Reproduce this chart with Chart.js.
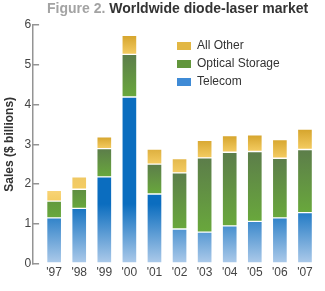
<!DOCTYPE html>
<html>
<head>
<meta charset="utf-8">
<script src="https://cdn.jsdelivr.net/npm/chart.js@4/dist/chart.umd.min.js"></script>
<style>
  html, body { margin: 0; padding: 0; background: #fff; }
  #wrap { position: relative; width: 325px; height: 291px; }
  #title { position: absolute; left: 47px; top: 0px; font: bold 14px "Liberation Sans", Arial, sans-serif; line-height: 16px; white-space: nowrap; color: #333; }
  #title .fig { color: #a3a3a3; }
</style>
</head>
<body>
<div id="wrap">
  <canvas id="c" width="325" height="291"></canvas>
  <div id="title"><span class="fig">Figure 2.</span> Worldwide diode-laser market</div>
</div>
<script>
const years = ["'97", "'98", "'99", "'00", "'01", "'02", "'03", "'04", "'05", "'06", "'07"];
const telecom = [1.15, 1.39, 2.18, 4.19, 1.75, 0.87, 0.79, 0.95, 1.06, 1.15, 1.28];
const opticalStorage = [0.42, 0.48, 0.71, 1.07, 0.75, 1.41, 1.87, 1.85, 1.76, 1.50, 1.59];
const allOther = [0.27, 0.31, 0.30, 0.48, 0.38, 0.36, 0.44, 0.42, 0.42, 0.47, 0.51];
const yTicks = [0, 1, 2, 3, 4, 5, 6];

const FONT = '"Liberation Sans", Arial, sans-serif';

function hex(c) { return [1, 3, 5].map(k => parseInt(c.substr(k, 2), 16)); }
function mix(a, b, t) {
  t = Math.max(0, Math.min(1, t));
  const A = hex(a), B = hex(b);
  return 'rgb(' + A.map((v, k) => Math.round(v + (B[k] - v) * t)).join(',') + ')';
}

// Telecom: gradient tied to the value axis
function blueFill(ctx) {
  const chart = ctx.chart, y = chart.scales && chart.scales.y;
  if (!chart.chartArea || !y) return '#3f8bd6';
  const g = chart.ctx.createLinearGradient(0, y.getPixelForValue(1.5), 0, y.getPixelForValue(0));
  g.addColorStop(0, '#0b6dbf');
  g.addColorStop(1, '#aecbea');
  return g;
}

// Segment gradient: darker at the top of each segment
function segFill(lowerArrs, ownArr, darkTop, lightTop, bottomCol, hiVal, loVal, fallback) {
  return function (ctx) {
    const chart = ctx.chart, y = chart.scales && chart.scales.y;
    const i = ctx.dataIndex;
    if (!chart.chartArea || !y || i === undefined) return fallback;
    const base = lowerArrs.reduce((s, a) => s + a[i], 0);
    const top = base + ownArr[i];
    const t = (hiVal - top) / (hiVal - loVal);
    const g = chart.ctx.createLinearGradient(0, y.getPixelForValue(top), 0, y.getPixelForValue(base));
    g.addColorStop(0, mix(darkTop, lightTop, t));
    g.addColorStop(1, bottomCol);
    return g;
  };
}

const swatch = {
  'Telecom': '#3f8bd6',
  'Optical Storage': '#62963c',
  'All Other': '#e2b744'
};

const toXY = arr => arr.map((v, i) => ({ x: i, y: v }));

const legendMove = {
  id: 'legendMove',
  afterLayout(chart) {
    const l = chart.legend;
    if (!l) return;
    const w = l.width, h = l.height;
    l.left = 171; l.top = 34;
    l.right = l.left + w; l.bottom = l.top + h;
  }
};

new Chart(document.getElementById('c'), {
  type: 'bar',
  data: {
    datasets: [
      { label: 'Telecom', data: toXY(telecom), backgroundColor: blueFill },
      { label: 'Optical Storage', data: toXY(opticalStorage),
        backgroundColor: segFill([telecom], opticalStorage, '#5c7d4a', '#63a03a', '#69a83c', 2.3, 1.4, '#62963c') },
      { label: 'All Other', data: toXY(allOther),
        backgroundColor: segFill([telecom, opticalStorage], allOther, '#d5a42c', '#f9d579', '#f4cc62', 3.2, 1.8, '#e2b744') }
    ]
  },
  options: {
    responsive: false,
    animation: false,
    events: [],
    barThickness: 15,
    borderWidth: 1,
    borderColor: 'rgba(255,255,255,0.4)',
    borderSkipped: false,
    layout: { padding: { left: 0, right: 8, top: 25, bottom: 9 } },
    scales: {
      x: {
        type: 'linear',
        offset: false,
        stacked: true,
        min: -0.84,
        max: 10.48,
        grid: { display: false, drawTicks: false, offset: false },
        border: { display: false },
        afterBuildTicks(scale) {
          scale.ticks = years.map((_, i) => ({ value: i }));
        },
        ticks: {
          autoSkip: false, maxRotation: 0, padding: 2,
          color: '#444', font: { family: FONT, size: 12 },
          callback: v => years[v]
        }
      },
      y: {
        stacked: true,
        min: 0, max: 6,
        afterBuildTicks(scale) {
          scale.ticks = yTicks.map(v => ({ value: v }));
        },
        grid: { drawOnChartArea: false, drawTicks: true, tickLength: -6, color: '#949494', lineWidth: 1.5 },
        border: { display: true, color: '#949494', width: 1.5 },
        ticks: { padding: 8, color: '#444', font: { family: FONT, size: 12 } },
        title: { display: true, text: 'Sales ($ billions)', color: '#333',
                 font: { family: FONT, size: 12, weight: 'bold' }, padding: { top: 2, bottom: 0 } }
      }
    },
    plugins: {
      title: { display: false },
      tooltip: { enabled: false },
      legend: {
        position: 'chartArea',
        align: 'start',
        reverse: true,
        labels: {
          boxWidth: 14, boxHeight: 8, padding: 6,
          color: '#333', font: { family: FONT, size: 12 },
          generateLabels(chart) {
            const items = Chart.defaults.plugins.legend.labels.generateLabels(chart);
            return items.map(it => Object.assign(it, {
              fillStyle: swatch[it.text], strokeStyle: swatch[it.text], lineWidth: 0
            }));
          }
        }
      }
    }
  },
  plugins: [legendMove]
});
</script>
</body>
</html>
